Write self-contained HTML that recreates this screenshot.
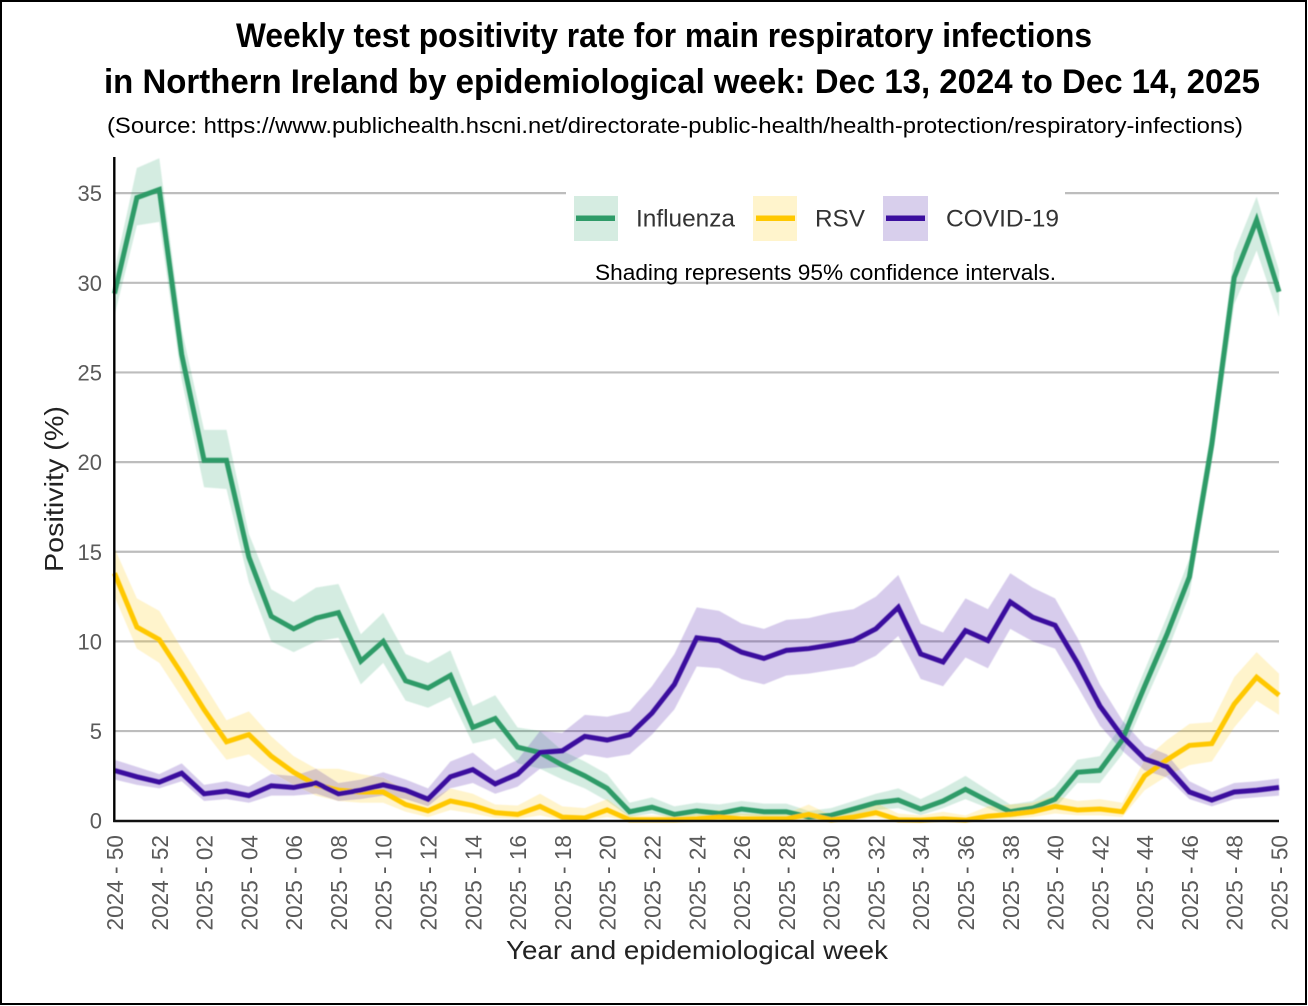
<!DOCTYPE html>
<html lang="en">
<head>
<meta charset="utf-8">
<title>Weekly test positivity rate for main respiratory infections in Northern Ireland</title>
<style>
  html, body { margin: 0; padding: 0; background: #fff; }
  body { width: 1308px; height: 1006px; overflow: hidden; }
  svg { display: block; font-family: "Liberation Sans", sans-serif; }
</style>
</head>
<body>
<svg id="chart" xmlns="http://www.w3.org/2000/svg" width="1308" height="1006" viewBox="0 0 1308 1006">
  <defs>
    <filter id="soft" x="-2%" y="-2%" width="104%" height="104%"><feGaussianBlur stdDeviation="0.5"/></filter>
  </defs>
  <rect x="1" y="1" width="1305" height="1003" fill="#fff" stroke="#000" stroke-width="2"/>
  <text x="236" y="47" font-size="34" font-weight="700" fill="#000" textLength="856" lengthAdjust="spacingAndGlyphs">Weekly test positivity rate for main respiratory infections</text>
  <text x="104" y="93" font-size="34" font-weight="700" fill="#000" textLength="1156" lengthAdjust="spacingAndGlyphs">in Northern Ireland by epidemiological week: Dec 13, 2024 to Dec 14, 2025</text>
  <text x="107" y="133" font-size="22" fill="#000" textLength="1136" lengthAdjust="spacingAndGlyphs">(Source: https://www.publichealth.hscni.net/directorate-public-health/health-protection/respiratory-infections)</text>
  <g id="grid"></g>
  <rect x="566" y="186" width="499" height="60" fill="#fff"/>
  <g id="bands" filter="url(#soft)"></g>
  <g id="lines" filter="url(#soft)"></g>
  <g id="axes"></g>
  <g id="yticks"></g>
  <g id="xticks"></g>
  <text transform="translate(63,489) rotate(-90)" text-anchor="middle" font-size="26" fill="#222" textLength="166" lengthAdjust="spacingAndGlyphs">Positivity (%)</text>
  <text x="697" y="959" text-anchor="middle" font-size="26" fill="#222" textLength="382" lengthAdjust="spacingAndGlyphs">Year and epidemiological week</text>
  <g>
    <g>
      <rect x="574" y="196" width="44" height="45" fill="#2e9e6b" fill-opacity="0.2"/>
      <rect x="576" y="215.5" width="39" height="5.5" fill="#2f9b68"/>
      <text x="636" y="226.5" font-size="24" fill="#333" textLength="99" lengthAdjust="spacingAndGlyphs">Influenza</text>
    </g>
    <g>
      <rect x="753" y="196" width="44" height="45" fill="#ffc800" fill-opacity="0.2"/>
      <rect x="756" y="215.5" width="39" height="5.5" fill="#ffc800"/>
      <text x="815" y="226.5" font-size="24" fill="#333" textLength="50" lengthAdjust="spacingAndGlyphs">RSV</text>
    </g>
    <g>
      <rect x="883" y="196" width="45" height="45" fill="#3b0f9e" fill-opacity="0.2"/>
      <rect x="886" y="215.5" width="39" height="5.5" fill="#3b0f9e"/>
      <text x="946" y="226.5" font-size="24" fill="#333" textLength="113" lengthAdjust="spacingAndGlyphs">COVID-19</text>
    </g>
  </g>
  <text x="595" y="280" font-size="22" fill="#000" textLength="461" lengthAdjust="spacingAndGlyphs">Shading represents 95% confidence intervals.</text>
</svg>
<script>
var weekCategories = ["2024 - 50","2024 - 51","2024 - 52","2025 - 01","2025 - 02","2025 - 03","2025 - 04","2025 - 05","2025 - 06","2025 - 07","2025 - 08","2025 - 09","2025 - 10","2025 - 11","2025 - 12","2025 - 13","2025 - 14","2025 - 15","2025 - 16","2025 - 17","2025 - 18","2025 - 19","2025 - 20","2025 - 21","2025 - 22","2025 - 23","2025 - 24","2025 - 25","2025 - 26","2025 - 27","2025 - 28","2025 - 29","2025 - 30","2025 - 31","2025 - 32","2025 - 33","2025 - 34","2025 - 35","2025 - 36","2025 - 37","2025 - 38","2025 - 39","2025 - 40","2025 - 41","2025 - 42","2025 - 43","2025 - 44","2025 - 45","2025 - 46","2025 - 47","2025 - 48","2025 - 49","2025 - 50"];
var yTickValues = [0,5,10,15,20,25,30,35];

var influenzaValues = [29.4,34.75,35.2,26,20.1,20.1,14.7,11.4,10.7,11.3,11.6,8.9,10,7.8,7.4,8.1,5.2,5.7,4.1,3.8,3.1,2.5,1.8,0.5,0.75,0.35,0.55,0.4,0.65,0.5,0.5,0.2,0.3,0.65,1,1.15,0.65,1.1,1.75,1.1,0.5,0.7,1.2,2.7,2.8,4.5,7.5,10.4,13.6,21,30.3,33.5,29.5];
var influenzaUpper = [30.7,36.4,36.95,27.4,21.8,21.8,16,12.9,12.2,13,13.2,10.4,11.6,9.3,8.8,9.5,6.4,7,5.2,5,3.9,3.3,2.6,1,1.3,0.8,1,0.9,1.1,0.95,0.95,0.55,0.7,1.1,1.5,1.8,1.2,1.8,2.5,1.7,0.9,1.1,1.9,3.4,3.6,5.4,8.4,11.4,14.6,22,31.7,34.8,30.7];
var influenzaLower = [28.2,33.2,33.4,24.6,18.6,18.5,13.3,10,9.4,10,10.2,7.6,8.8,6.7,6.3,6.9,4.3,4.6,3.2,2.9,2.3,1.8,1.1,0.2,0.4,0.1,0.25,0.1,0.3,0.2,0.2,0.05,0.05,0.3,0.6,0.7,0.3,0.7,1.2,0.7,0.2,0.4,0.7,2.1,2.1,3.7,6.6,9.4,12.6,20,28.8,31.8,28.1];

var rsvValues = [13.8,10.8,10.1,8.2,6.2,4.4,4.8,3.6,2.7,2,1.7,1.6,1.6,0.9,0.55,1.1,0.85,0.45,0.35,0.8,0.2,0.15,0.6,0.05,0.05,0.05,0.1,0.2,0.1,0.1,0.1,0.35,0.05,0.2,0.45,0.05,0.03,0.1,0.03,0.25,0.35,0.5,0.8,0.6,0.65,0.5,2.5,3.4,4.2,4.3,6.5,8,7];
var rsvUpper = [15.2,12.4,11.7,9.6,7.6,5.6,6.1,4.7,3.6,2.9,2.9,2.6,2.4,1.7,1.1,1.8,1.5,0.9,0.85,1.5,0.8,0.7,1.2,0.3,0.3,0.3,0.4,0.6,0.4,0.4,0.4,0.9,0.3,0.6,1,0.4,0.3,0.5,0.3,0.8,0.9,1,1.4,1.1,1.2,1,3.4,4.5,5.4,5.5,8,9.4,8.2];
var rsvLower = [12.5,9.6,8.8,6.9,5,3.4,3.7,2.7,2,1.4,1.1,1,1,0.5,0.2,0.6,0.4,0.15,0.1,0.3,0.03,0,0.2,0,0,0,0,0.05,0,0,0,0,0,0.05,0.15,0,0,0,0,0.05,0.1,0.2,0.4,0.3,0.3,0.2,1.7,2.5,3.1,3.3,5.2,6.7,5.9];

var covidValues = [2.8,2.45,2.15,2.65,1.5,1.65,1.4,1.95,1.85,2.1,1.5,1.7,2,1.7,1.2,2.45,2.85,2.05,2.6,3.8,3.9,4.7,4.5,4.8,6,7.6,10.2,10.05,9.4,9.05,9.5,9.6,9.8,10.05,10.7,11.9,9.3,8.85,10.6,10.05,12.2,11.35,10.9,8.8,6.4,4.7,3.45,3,1.6,1.15,1.6,1.7,1.85];
var covidUpper = [3.4,3,2.6,3.2,2,2.2,1.9,2.6,2.5,2.9,2.1,2.3,2.7,2.3,1.8,3.3,3.8,2.8,3.4,5,4.9,5.9,5.8,6.1,7.5,9.3,11.9,11.7,11,10.7,11.2,11.3,11.6,11.8,12.5,13.7,11,10.5,12.4,11.8,13.8,13,12.4,10.2,7.6,5.6,4.2,3.7,2.2,1.6,2.1,2.2,2.35];
var covidLower = [2.3,2,1.8,2.2,1.1,1.2,1,1.4,1.4,1.5,1.1,1.2,1.4,1.2,0.8,1.8,2.1,1.5,1.9,2.9,3,3.7,3.5,3.7,4.8,6.2,8.6,8.5,7.9,7.6,8.1,8.2,8.4,8.6,9.2,10.3,7.9,7.5,9.1,8.5,10.7,10,9.6,7.5,5.3,3.9,2.8,2.4,1.2,0.8,1.2,1.3,1.4];

var NS = "http://www.w3.org/2000/svg";
var plotLeft = 114.5, plotRight = 1279, yZero = 820.7, pxPerUnit = 17.93;

function xScale(i) {
  return plotLeft + i * (plotRight - plotLeft) / (weekCategories.length - 1);
}
function yScale(v) {
  return yZero - v * pxPerUnit;
}
function make(tag, attrs, parent) {
  var el = document.createElementNS(NS, tag);
  for (var k in attrs) { el.setAttribute(k, attrs[k]); }
  parent.appendChild(el);
  return el;
}
function linePoints(vals) {
  return vals.map(function (v, i) { return xScale(i).toFixed(2) + "," + yScale(v).toFixed(2); }).join(" ");
}
function bandPoints(up, lo) {
  var top = up.map(function (v, i) { return xScale(i).toFixed(2) + "," + yScale(v).toFixed(2); });
  var bottom = lo.map(function (v, i) { return xScale(i).toFixed(2) + "," + yScale(v).toFixed(2); }).reverse();
  return top.concat(bottom).join(" ");
}

var gridGroup = document.getElementById("grid");
yTickValues.forEach(function (v) {
  if (v === 0) { return; }
  var gridLine = make("line", { x1: plotLeft, x2: plotRight, y1: yScale(v), y2: yScale(v), stroke: "#bdbdbd", "stroke-width": 2.2 }, gridGroup);
  
  
});

var bandGroup = document.getElementById("bands");
var lineGroup = document.getElementById("lines");

var influenzaBand = make("polygon", { points: bandPoints(influenzaUpper, influenzaLower), fill: "#2e9e6b", "fill-opacity": 0.2 }, bandGroup);


var rsvBand = make("polygon", { points: bandPoints(rsvUpper, rsvLower), fill: "#ffc800", "fill-opacity": 0.2 }, bandGroup);


var covidBand = make("polygon", { points: bandPoints(covidUpper, covidLower), fill: "#3b0f9e", "fill-opacity": 0.2 }, bandGroup);



var influenzaLine = make("polyline", { points: linePoints(influenzaValues), fill: "none", stroke: "#2f9b68", "stroke-width": 5, "stroke-linejoin": "miter" }, lineGroup);


var rsvLine = make("polyline", { points: linePoints(rsvValues), fill: "none", stroke: "#ffc800", "stroke-width": 5, "stroke-linejoin": "miter" }, lineGroup);


var covidLine = make("polyline", { points: linePoints(covidValues), fill: "none", stroke: "#3b0f9e", "stroke-width": 5, "stroke-linejoin": "miter" }, lineGroup);



var axesGroup = document.getElementById("axes");
var yAxisLine = make("line", { x1: 114.3, x2: 114.3, y1: 157, y2: 822, stroke: "#000", "stroke-width": 2.4 }, axesGroup);


var xAxisLine = make("line", { x1: 113.2, x2: plotRight, y1: 821, y2: 821, stroke: "#111", "stroke-width": 2.4 }, axesGroup);



var yTickGroup = document.getElementById("yticks");
yTickValues.forEach(function (v) {
  var label = make("text", { x: 102, y: yScale(v) + 8, "text-anchor": "end", "font-size": 22, fill: "#5a5a5a" }, yTickGroup);
  label.textContent = String(v);
  
  
});

var xTickGroup = document.getElementById("xticks");
weekCategories.forEach(function (name, i) {
  if (i % 2 !== 0) { return; }
  var px = xScale(i) + 8.5;
  var label = make("text", { transform: "translate(" + px.toFixed(2) + ",930.5) rotate(-90)", "font-size": 23, fill: "#5a5a5a", textLength: 95.5, lengthAdjust: "spacingAndGlyphs" }, xTickGroup);
  label.textContent = name;
  
  
});
</script>
</body>
</html>
